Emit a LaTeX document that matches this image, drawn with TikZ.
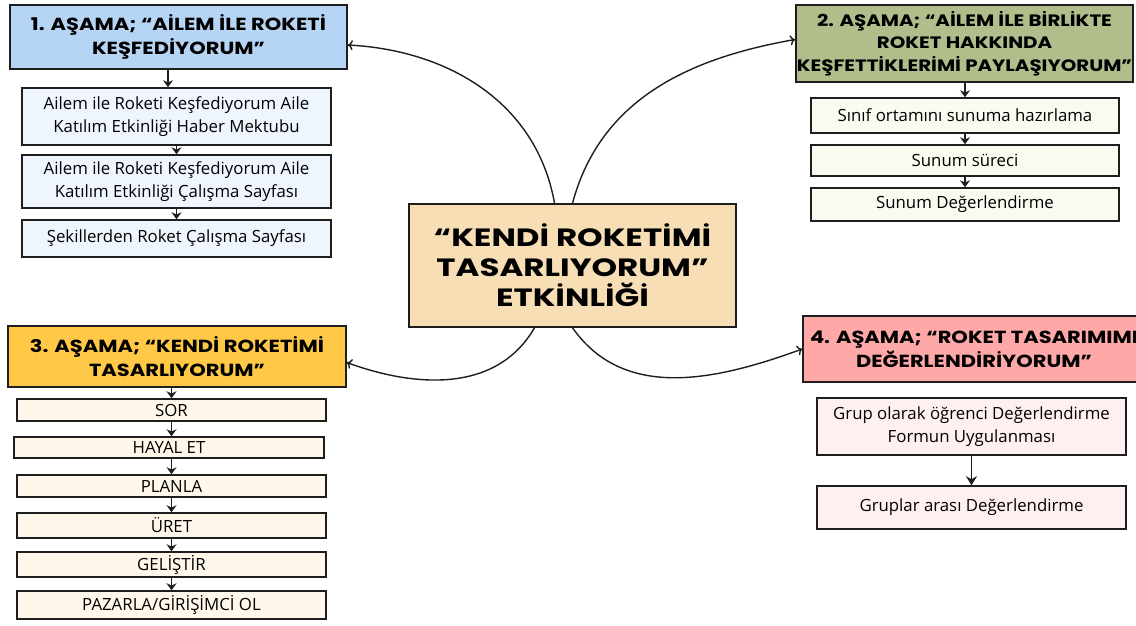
\documentclass[tikz,border=0pt]{standalone}
\usepackage{fontspec}
\setmainfont{Open Sans}
\newfontfamily\baslikfont{Poppins}[FakeStretch=1.2]
\newfontfamily\ortafont{Poppins}[FakeStretch=1.3]
\usetikzlibrary{arrows.meta}
\definecolor{figKenar}{RGB}{30,30,30}
\definecolor{figMavi}{RGB}{182,213,245}
\definecolor{figMaviFond}{RGB}{238,245,253}
\definecolor{figYesil}{RGB}{176,190,140}
\definecolor{figYesilFond}{RGB}{250,251,240}
\definecolor{figSari}{RGB}{255,200,70}
\definecolor{figSariFond}{RGB}{255,248,234}
\definecolor{figPembe}{RGB}{255,168,168}
\definecolor{figPembeFond}{RGB}{255,240,240}
\definecolor{figTen}{RGB}{248,222,180}

\begin{document}
\begin{tikzpicture}[
  x=1pt, y=1pt,
  every node/.style={inner sep=2pt, draw=figKenar, line width=1.5pt, align=center},
  bas/.style={font=\baslikfont\bfseries\fontsize{17.5}{24}\selectfont},
  alt/.style={font=\fontsize{16.8}{23}\selectfont},
  orta/.style={font=\ortafont\bfseries\fontsize{25}{30}\selectfont, fill=figTen},
  ok/.style={-{Stealth[length=7pt,width=10pt]}, line width=1.5pt, figKenar},
  bag/.style={-{To[length=5pt,width=10pt]}, line width=1.4pt, figKenar}
]
\useasboundingbox (0,0) rectangle (1136,-626);

\node[orta, minimum width=327pt, minimum height=123pt] (mid) at (572.5,-265.5)
  {“KENDİ ROKETİMİ\\TASARLIYORUM”\\ETKİNLİĞİ};

% 1. asama
\node[bas, fill=figMavi, minimum width=337pt, minimum height=64pt] (b1h) at (178.5,-37)
  {1. AŞAMA; “AİLEM İLE ROKETİ\\KEŞFEDİYORUM”};
\node[alt, fill=figMaviFond, minimum width=309pt, minimum height=57pt] (b1a) at (176.5,-116.5)
  {Ailem ile Roketi Keşfediyorum Aile\\Katılım Etkinliği Haber Mektubu};
\node[alt, fill=figMaviFond, minimum width=309pt, minimum height=53pt] (b1b) at (176.5,-181.5)
  {Ailem ile Roketi Keşfediyorum Aile\\Katılım Etkinliği Çalışma Sayfası};
\node[alt, fill=figMaviFond, minimum width=309pt, minimum height=37pt] (b1c) at (176.5,-238.5)
  {Şekillerden Roket Çalışma Sayfası};

% 2. asama
\node[bas, fill=figYesil, minimum width=335pt, minimum height=77pt, inner sep=1pt,
      font=\baslikfont\bfseries\fontsize{16.5}{22.5}\selectfont] (b2h) at (964.5,-43.5)
  {2. AŞAMA; “AİLEM İLE BİRLİKTE\\ROKET HAKKINDA\\KEŞFETTİKLERİMİ PAYLAŞIYORUM”};
\node[alt, fill=figYesilFond, minimum width=308pt, minimum height=35pt] (b2a) at (965,-115.5)
  {Sınıf ortamını sunuma hazırlama};
\node[alt, fill=figYesilFond, minimum width=308pt, minimum height=31pt] (b2b) at (965,-160.5)
  {Sunum süreci};
\node[alt, fill=figYesilFond, minimum width=308pt, minimum height=33pt] (b2c) at (965,-204.5)
  {Sunum Değerlendirme};

% 3. asama
\node[bas, fill=figSari, minimum width=338pt, minimum height=61pt] (b3h) at (177,-356.5)
  {3. AŞAMA; “KENDİ ROKETİMİ\\TASARLIYORUM”};
\node[alt, fill=figSariFond, minimum width=309pt, minimum height=22pt, inner sep=0pt] (b3a) at (171.5,-410) {SOR};
\node[alt, fill=figSariFond, minimum width=310pt, minimum height=21pt, inner sep=0pt] (b3b) at (169,-447.5) {HAYAL ET};
\node[alt, fill=figSariFond, minimum width=309pt, minimum height=22pt, inner sep=0pt] (b3c) at (171.5,-486) {PLANLA};
\node[alt, fill=figSariFond, minimum width=309pt, minimum height=25pt, inner sep=0pt] (b3d) at (171.5,-525.5) {ÜRET};
\node[alt, fill=figSariFond, minimum width=309pt, minimum height=25pt, inner sep=0pt] (b3e) at (171.5,-564.5) {GELİŞTİR};
\node[alt, fill=figSariFond, minimum width=309pt, minimum height=28pt, inner sep=0pt] (b3f) at (171.5,-605) {PAZARLA/GİRİŞİMCİ OL};

% 4. asama
\node[bas, fill=figPembe, minimum width=342pt, minimum height=66pt] (b4h) at (974,-349)
  {4. AŞAMA; “ROKET TASARIMIMI\\DEĞERLENDİRİYORUM”};
\node[alt, fill=figPembeFond, minimum width=309pt, minimum height=57pt] (b4a) at (971.5,-426.5)
  {Grup olarak öğrenci Değerlendirme\\Formun Uygulanması};
\node[alt, fill=figPembeFond, minimum width=309pt, minimum height=43pt] (b4b) at (971.5,-507.5)
  {Gruplar arası Değerlendirme};

% dallar
\draw[bag] ([xshift=-18pt]mid.north) to[out=100,in=-3] ([yshift=-8pt]b1h.east);
\draw[bag] ([xshift=0pt]mid.north) to[out=75,in=190] ([yshift=4pt]b2h.west);
\draw[bag] ([xshift=-38pt]mid.south) to[out=-120,in=-20] ([yshift=-6pt]b3h.east);
\draw[bag] ([xshift=0pt]mid.south) to[out=-55,in=200] (b4h.west);

% adimlar
\draw[ok] (b1h.south -| 168,0) -- (b1a.north -| 168,0);
\draw[ok] (b1a) -- (b1b);
\draw[ok] (b1b) -- (b1c);
\draw[ok] (b2h.south -| b2a) -- (b2a);
\draw[ok] (b2a) -- (b2b);
\draw[ok] (b2b) -- (b2c);
\draw[ok] (b3h.south -| b3a) -- (b3a);
\draw[ok] (b3a) -- (b3b.north -| b3a);
\draw[ok] (b3b.south -| b3c) -- (b3c);
\draw[ok] (b3c) -- (b3d);
\draw[ok] (b3d) -- (b3e);
\draw[ok] (b3e) -- (b3f);
\draw[ok, -{Stealth[length=9pt,width=11pt]}] (b4a) -- (b4b);

\end{tikzpicture}
\end{document}
